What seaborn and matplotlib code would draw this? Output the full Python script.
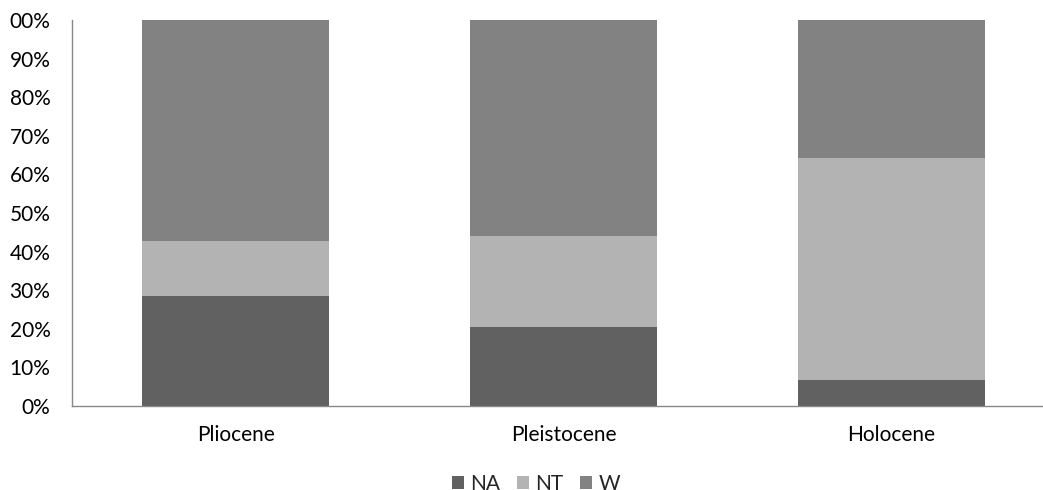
import matplotlib
matplotlib.use("Agg")
import matplotlib.pyplot as plt
from matplotlib.patches import Patch
import seaborn as sns
import pandas as pd
import numpy as np

# Data (percent)
categories = ["Pliocene", "Pleistocene", "Holocene"]
na_vals = [28.4, 20.4, 6.7]
nt_vals = [14.4, 23.6, 57.5]
w_vals = [57.2, 56.0, 35.8]
series_names = ["NA", "NT", "W"]
y_ticks = [0, 10, 20, 30, 40, 50, 60, 70, 80, 90, 100]
y_tick_labels = ["0%", "10%", "20%", "30%", "40%", "50%", "60%", "70%", "80%", "90%", "00%"]

colors = {"NA": "#616161", "NT": "#b3b3b3", "W": "#828282"}

sns.set_theme(style="white")
plt.rcParams["font.family"] = ["Lato", "DejaVu Sans"]

df = pd.DataFrame({"cat": categories, "NA": na_vals, "NT": nt_vals, "W": w_vals})
df["c_na"] = df["NA"]
df["c_nt"] = df["NA"] + df["NT"]
df["c_w"] = df["NA"] + df["NT"] + df["W"]

fig = plt.figure(figsize=(10.43, 4.90), dpi=100)
ax = fig.add_axes([72 / 1043, 84 / 490, 983 / 1043, 386 / 490])

bw = 0.571
for col, name in [("c_w", "W"), ("c_nt", "NT"), ("c_na", "NA")]:
    sns.barplot(data=df, x="cat", y=col, order=categories, color=colors[name],
                width=bw, saturation=1, ax=ax, linewidth=0)

fs = 15
ax.set_xlim(-0.5, 2.5)
ax.set_ylim(0, 100)
ax.set_yticks(y_ticks)
ax.set_yticklabels(y_tick_labels)
ax.set_xlabel("")
ax.set_ylabel("")
ax.tick_params(axis="y", length=0, pad=15.5, labelsize=fs, labelcolor="#000000")
ax.tick_params(axis="x", length=0, pad=14, labelsize=fs, labelcolor="#000000")
for s in ["top", "right"]:
    ax.spines[s].set_visible(False)
for s in ["left", "bottom"]:
    ax.spines[s].set_color("#888888")
    ax.spines[s].set_linewidth(1.0)
ax.grid(False)

handles = [Patch(facecolor=colors[n], edgecolor="none", label=n) for n in series_names]
fig.legend(handles=handles, loc="center", bbox_to_anchor=(536 / 1043, 1 - 484 / 490),
           ncol=3, frameon=False, fontsize=fs, handlelength=0.6, handleheight=0.6,
           handletextpad=0.3, columnspacing=0.78, borderpad=0, borderaxespad=0)

fig.savefig("out.png", dpi=100)
